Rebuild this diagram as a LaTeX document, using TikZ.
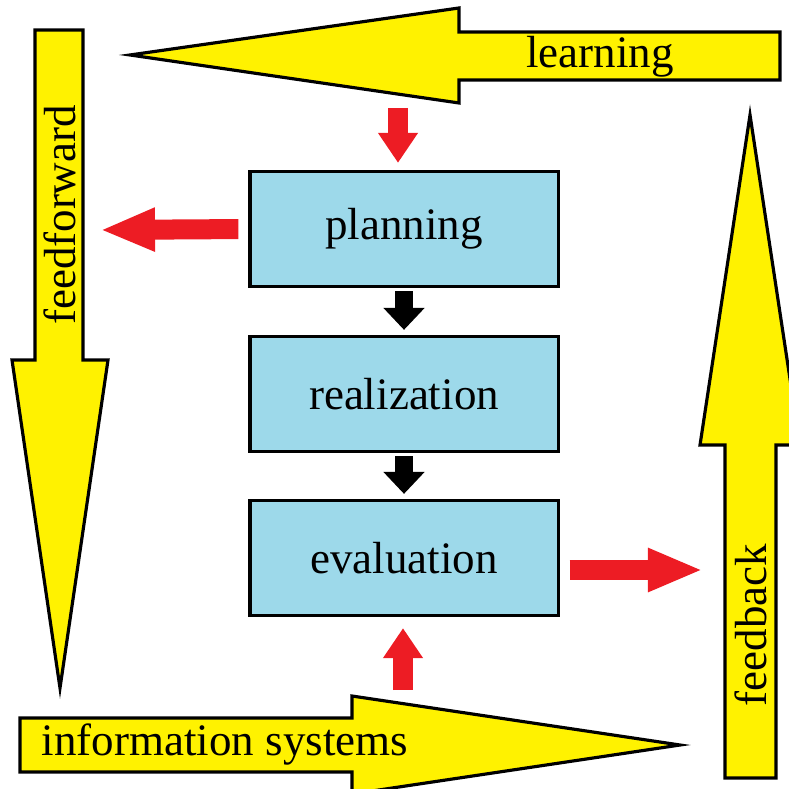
\documentclass[tikz,border=0pt]{standalone}
\usepackage{fontspec}
\setmainfont{Liberation Serif}
\usepackage{xcolor}
\usepackage{tikz}
\usetikzlibrary{arrows.meta,positioning}

\definecolor{bigyellow}{RGB}{255,242,0}
\definecolor{flowred}{RGB}{237,28,36}
\definecolor{boxblue}{RGB}{157,217,234}

\begin{document}
\begin{tikzpicture}[
        x=0.01cm, y=-0.01cm,
        bigarrow/.style={draw=black, line width=0.9pt, fill=bigyellow, line join=miter},
        label/.style={font=\fontsize{12.8pt}{15pt}\selectfont, inner sep=0pt},
        stage/.style={rectangle, draw=black, line width=0.9pt, fill=boxblue, minimum width=3.08cm, minimum height=1.15cm, font=\fontsize{12.8pt}{15pt}\selectfont},
        vflow/.style={flowred, line width=0.2cm, -{Triangle[length=0.3cm, width=0.38cm]}},
        hflow/.style={flowred, line width=0.2cm, -{Triangle[length=0.55cm, width=0.4cm]}},
        seq/.style={black, line width=0.18cm, -{Triangle[length=0.22cm, width=0.4cm]}}
    ]
    \useasboundingbox (0,0) rectangle (788,789);

    % Big yellow arrows
    \draw[bigarrow] (130,55) -- (459,8) -- (459,32) -- (780,32) -- (780,80) -- (459,80) -- (459,103) -- cycle;
    \draw[bigarrow] (35,30) -- (83,30) -- (83,360) -- (108,360) -- (60,688) -- (12,360) -- (35,360) -- cycle;
    \draw[bigarrow] (725,778) -- (776,778) -- (776,445) -- (800,445) -- (750,115) -- (700,445) -- (725,445) -- cycle;
    \draw[bigarrow] (20,718) -- (352,718) -- (352,696) -- (680,745) -- (352,794) -- (352,772) -- (20,772) -- cycle;

    \node[label] (learning) at (600,57) {learning};
    \node[label, rotate=90] (feedforward) at (60,215) {feedforward};
    \node[label, rotate=90] (feedback) at (751,625) {feedback};
    \node[label] (infosys) at (225,745) {information systems};

    % Stages
    \node[stage] (planning) at (404,229) {planning};
    \node[stage] (realization) at (404,394) {realization};
    \node[stage] (evaluation) at (404,558) {evaluation};

    % Free ends
    \coordinate (learn_out) at (398,108);
    \coordinate (ff_in) at (100,230);
    \coordinate (fb_in) at (703,570);
    \coordinate (is_out) at (403,690);

    % Connections - Sequence
    \draw[seq, shorten <=0.03cm, shorten >=0.05cm] (planning) -- (realization);
    \draw[seq, shorten <=0.03cm, shorten >=0.05cm] (realization) -- (evaluation);

    % Connections - Loops
    \draw[vflow, shorten >=0.07cm] (learn_out) -- (learn_out |- planning.north);
    \draw[hflow, shorten <=0.1cm] (planning.west) -- (ff_in);
    \draw[hflow, shorten <=0.1cm] (evaluation.east |- fb_in) -- (fb_in);
    \draw[vflow, shorten >=0.11cm] (is_out) -- (is_out |- evaluation.south);

\end{tikzpicture}
\end{document}
